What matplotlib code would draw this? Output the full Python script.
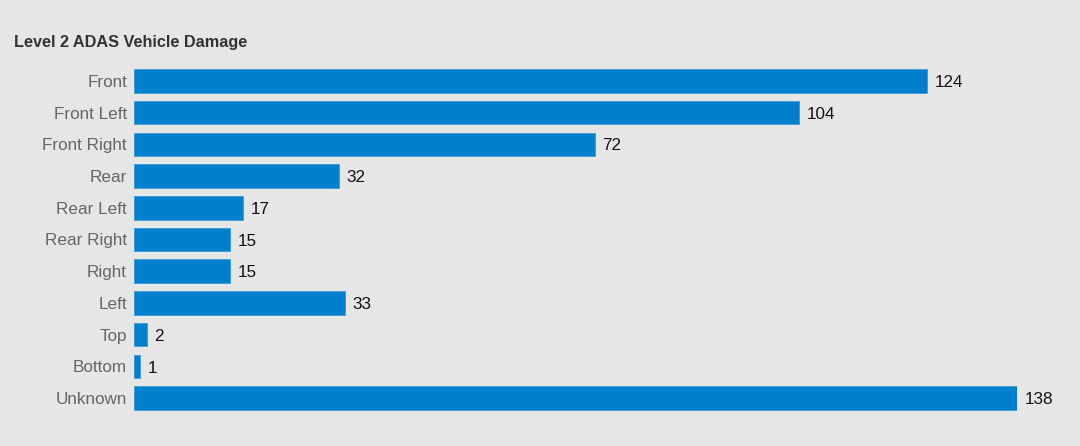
import matplotlib
matplotlib.use("Agg")
import matplotlib.pyplot as plt

categories = ["Front", "Front Left", "Front Right", "Rear", "Rear Left", "Rear Right",
              "Right", "Left", "Top", "Bottom", "Unknown"]
values = [124, 104, 72, 32, 17, 15, 15, 33, 2, 1, 138]
title = "Level 2 ADAS Vehicle Damage"

plt.rcParams['font.family'] = ['Liberation Sans', 'DejaVu Sans']

W, H = 1080, 446
bg = "#e6e6e6"
fig = plt.figure(figsize=(W / 100, H / 100), dpi=100, facecolor=bg)
left, right = 134 / W, 1017 / W
top, bottom = 65 / H, 414 / H
ax = fig.add_axes([left, 1 - bottom, right - left, bottom - top], facecolor=bg)

ypos = list(range(len(categories)))
bars = ax.barh(ypos, values, height=0.74, color="#0080cc", edgecolor="#3d9ad6", linewidth=0.6)
ax.set_xlim(0, max(values))
ax.set_ylim(len(categories) - 0.5, -0.5)
ax.set_yticks(ypos)
ax.set_yticklabels(categories, fontsize=12.3, color="#666666")
ax.tick_params(axis="y", length=0, pad=5)
ax.set_xticks([])
for s in ax.spines.values():
    s.set_visible(False)

for b, v in zip(bars, values):
    ax.annotate(str(v), xy=(b.get_width(), b.get_y() + b.get_height() / 2),
                xytext=(5.5, -1.2), textcoords="offset points", va="center", ha="left",
                fontsize=12.3, color="#111111", annotation_clip=False)

fig.text(14 / W, 1 - 42 / H, title, fontsize=11.7, fontweight="bold", color="#333333",
         ha="left", va="center")

fig.savefig("out.png", dpi=100, facecolor=bg)
